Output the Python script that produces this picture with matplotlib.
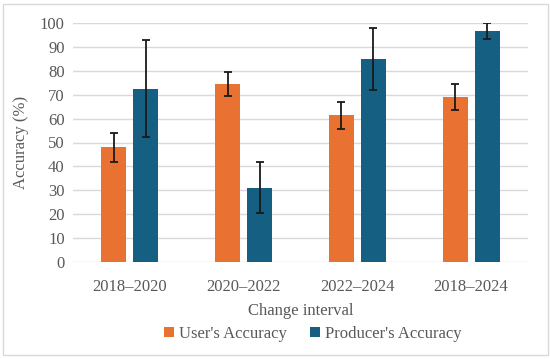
import matplotlib.pyplot as plt
import numpy as np
from matplotlib.patches import Rectangle

categories = ['2018–2020', '2020–2022', '2022–2024', '2018–2024']
users_acc = [48, 74.5, 61.3, 69.2]
users_err = [6, 5.1, 5.7, 5.4]
producers_acc = [72.5, 31, 84.8, 96.6]
producers_err = [20.2, 10.7, 13, 3.2]

plt.rcParams['font.family'] = ['Liberation Serif', 'DejaVu Serif']

fig = plt.figure(figsize=(5.5, 3.59), dpi=100)
ax = fig.add_axes([73 / 550, 1 - 262 / 359, 455 / 550, 239 / 359])

x = np.arange(len(categories))
w = 0.22
gap = 0.03
ekw = dict(ecolor='#1a1a1a', elinewidth=1.3, capthick=1.3)
ax.bar(x - w / 2 - gap, users_acc, w, color='#E97132', label="User's Accuracy",
       yerr=users_err, capsize=2.7, error_kw=ekw, zorder=3)
ax.bar(x + w / 2 + gap, producers_acc, w, color='#156082', label="Producer's Accuracy",
       yerr=producers_err, capsize=2.7, error_kw=ekw, zorder=3)

ax.set_xlim(-0.5, 3.5)
ax.set_ylim(0, 100)
ax.set_yticks(range(0, 101, 10))
ax.set_xticks(x)
ax.set_xticklabels(categories)
ax.grid(axis='y', color='#D9D9D9', linewidth=1, zorder=0)
for s in ax.spines.values():
    s.set_visible(False)
ax.tick_params(length=0, labelsize=12, colors='#595959', pad=6)
ax.tick_params(axis='x', pad=12)
ax.set_ylabel('Accuracy (%)', fontsize=12, color='#595959', labelpad=8)
ax.set_xlabel('Change interval', fontsize=12, color='#595959', labelpad=6)

leg = fig.legend(loc='center', bbox_to_anchor=(313 / 550, 1 - 334 / 359), ncol=2, frameon=False,
                 fontsize=12, handlelength=0.6, handleheight=0.6, handletextpad=0.3, columnspacing=1.4)
for t in leg.get_texts():
    t.set_color('#595959')

fig.patches.append(Rectangle((3 / 550, 4 / 359), 545 / 550, 351 / 359, transform=fig.transFigure,
                             fill=False, edgecolor='#D9D9D9', linewidth=1))

fig.savefig('out.png', dpi=100)
